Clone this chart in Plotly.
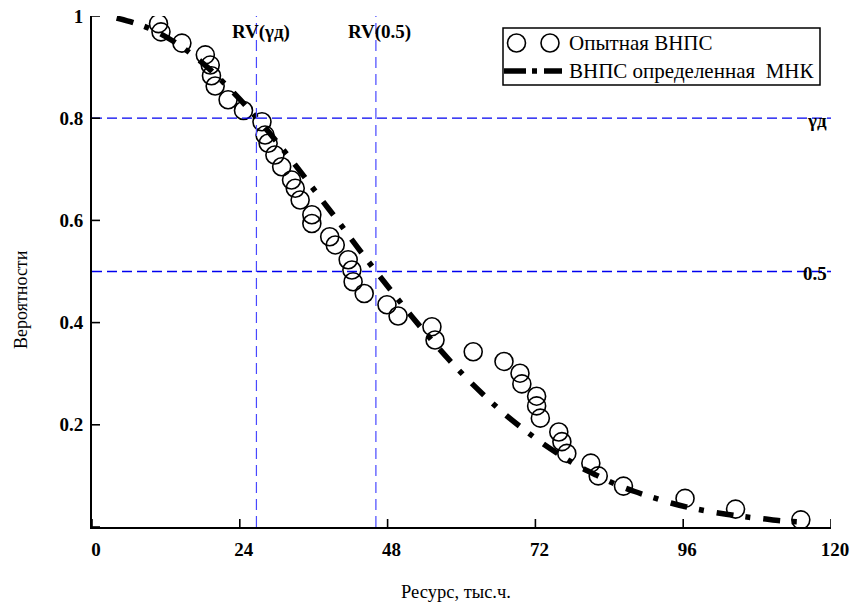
import plotly.graph_objects as go

# Опытная ВНПС: эмпирические точки (ресурс, тыс.ч. / вероятность)
exp_x = [10.8, 11.2, 14.6, 18.4, 19.2, 19.4, 20.0, 22.1, 24.6, 27.6,
         28.1, 28.6, 29.7, 30.8, 32.4, 33.0, 33.8, 35.7, 35.7, 38.6,
         39.5, 41.6, 42.2, 42.4, 44.2, 47.9, 49.7, 55.2, 55.7, 61.9,
         66.9, 69.5, 69.8, 72.2, 72.2, 72.8, 75.8, 76.3, 77.1, 81.0,
         82.2, 86.3, 96.3, 104.5, 115.1]
exp_p = [0.985, 0.969, 0.947, 0.924, 0.904, 0.883, 0.863, 0.836, 0.815, 0.793,
         0.767, 0.751, 0.728, 0.705, 0.679, 0.663, 0.640, 0.611, 0.594, 0.568,
         0.552, 0.523, 0.503, 0.480, 0.457, 0.435, 0.413, 0.392, 0.366, 0.343,
         0.324, 0.301, 0.280, 0.256, 0.237, 0.213, 0.186, 0.167, 0.144, 0.125,
         0.100, 0.080, 0.056, 0.035, 0.014]

# ВНПС, определенная МНК
fit_x = [4, 7, 10, 13, 16, 19, 22, 25, 28, 31, 34, 37, 40, 43, 46, 49, 52, 55,
         58, 61, 64, 67, 70, 73, 76, 79, 82, 85, 88, 91, 94, 97, 100, 103, 106,
         109, 112, 115]
fit_p = [0.996, 0.986, 0.972, 0.952, 0.927, 0.897, 0.862, 0.824, 0.783, 0.739,
         0.693, 0.645, 0.598, 0.549, 0.502, 0.456, 0.411, 0.368, 0.327, 0.289,
         0.254, 0.221, 0.192, 0.165, 0.141, 0.119, 0.101, 0.084, 0.070, 0.058,
         0.047, 0.038, 0.031, 0.025, 0.020, 0.016, 0.012, 0.010]

# уровни вероятности и соответствующие ресурсы
gamma_d = 0.8
p_half = 0.5
rv_gamma = 26.7
rv_half = 46.1

x_ticks = [0, 24, 48, 72, 96, 120]
y_ticks = [0.2, 0.4, 0.6, 0.8, 1]
y_tick_text = ["0.2", "0.4", "0.6", "0.8", "1"]

SERIF = "Liberation Serif, 'Times New Roman', serif"
WIDTH, HEIGHT = 851, 605
L, T, R, B = 92, 16, 20, 78
PW = WIDTH - L - R
PH = HEIGHT - T - B


def px(xp):
    return (xp - L) / PW


def py(yp):
    return (T + PH - yp) / PH


fig = go.Figure()

fig.add_trace(go.Scatter(
    x=fit_x, y=fit_p, mode="lines", line_shape="spline",
    line=dict(color="black", width=5.5, dash="17px,12px,5px,13px"),
    showlegend=False, hoverinfo="skip",
))
fig.add_trace(go.Scatter(
    x=exp_x, y=exp_p, mode="markers",
    marker=dict(symbol="circle-open", size=18, color="black",
                line=dict(color="black", width=1.6)),
    showlegend=False, hoverinfo="skip",
))

shapes = []
# опорные уровни и ресурсы
for lvl in (gamma_d, p_half):
    shapes.append(dict(type="line", xref="x", yref="y", x0=0, x1=120, y0=lvl, y1=lvl,
                       line=dict(color="#0000f0", width=1.3, dash="10px,5px")))
for rv in (rv_gamma, rv_half):
    shapes.append(dict(type="line", xref="x", yref="y", x0=rv, x1=rv, y0=0, y1=1,
                       line=dict(color="#4848ff", width=1.2, dash="11px,6px")))
# штрихи, пересекающие оси
for xv in x_ticks:
    shapes.append(dict(type="line", xref="x", yref="y", x0=xv, x1=xv,
                       ysizemode="pixel", yanchor=0, y0=-8, y1=8,
                       line=dict(color="black", width=1.6)))
for yv in [0] + y_ticks:
    shapes.append(dict(type="line", xref="x", yref="y", y0=yv, y1=yv,
                       xsizemode="pixel", xanchor=0, x0=-7, x1=8,
                       line=dict(color="black", width=1.6)))
# легенда
shapes.append(dict(type="rect", xref="paper", yref="paper",
                   x0=px(503), x1=px(820), y0=py(85), y1=py(28),
                   line=dict(color="black", width=1.5), fillcolor="white"))
for cx in (516.5, 550):
    shapes.append(dict(type="circle", xref="paper", yref="paper",
                       xsizemode="pixel", ysizemode="pixel",
                       xanchor=px(cx), yanchor=py(43), x0=-9, x1=9, y0=-9, y1=9,
                       line=dict(color="black", width=1.6)))
shapes.append(dict(type="line", xref="paper", yref="paper",
                   x0=px(504), x1=px(562), y0=py(71), y1=py(71),
                   line=dict(color="black", width=5.5, dash="22px,6px,5px,7px")))

bold = dict(family=SERIF, size=19, color="black")
annotations = [
    dict(text="<b>RV(γд)</b>", xref="paper", yref="paper", x=px(261), y=py(32),
         xanchor="center", yanchor="middle", showarrow=False, font=bold),
    dict(text="<b>RV(0.5)</b>", xref="paper", yref="paper", x=px(379), y=py(32),
         xanchor="center", yanchor="middle", showarrow=False, font=bold),
    dict(text="<b>γд</b>", xref="paper", yref="y", x=px(829), y=gamma_d,
         xanchor="right", yanchor="middle", yshift=-2, showarrow=False, font=bold),
    dict(text="<b>0.5</b>", xref="paper", yref="y", x=px(829), y=p_half,
         xanchor="right", yanchor="middle", yshift=-2, showarrow=False, font=bold),
    dict(text="Опытная ВНПС", xref="paper", yref="paper", x=px(567), y=py(43),
         xanchor="left", yanchor="middle", showarrow=False,
         font=dict(family=SERIF, size=21, color="black")),
    dict(text="ВНПС определенная\u00a0 МНК", xref="paper", yref="paper", x=px(567), y=py(71),
         xanchor="left", yanchor="middle", showarrow=False,
         font=dict(family=SERIF, size=21, color="black")),
    dict(text="Ресурс, тыс.ч.", xref="paper", yref="paper", x=px(456), y=py(592),
         xanchor="center", yanchor="middle", showarrow=False,
         font=dict(family=SERIF, size=18.5, color="black")),
    dict(text="Вероятности", xref="paper", yref="paper", x=px(21), y=py(300),
         xanchor="center", yanchor="middle", textangle=-90, showarrow=False,
         font=dict(family=SERIF, size=18, color="black")),
]

fig.update_layout(
    width=WIDTH, height=HEIGHT,
    margin=dict(l=L, r=R, t=T, b=B, pad=0, autoexpand=False),
    paper_bgcolor="white", plot_bgcolor="white",
    showlegend=False,
    shapes=shapes, annotations=annotations,
    xaxis=dict(range=[0, 120], tickvals=x_ticks, ticks="", showgrid=False,
               zeroline=False, showline=True, linecolor="black", linewidth=2,
               automargin=False,
               tickfont=dict(family=SERIF, size=19, color="black", weight="bold"),
               ticklabelshift=4, ticklabelstandoff=4),
    yaxis=dict(range=[0, 1], tickvals=y_ticks, ticktext=y_tick_text, ticks="",
               showgrid=False, zeroline=False, showline=True, linecolor="black",
               linewidth=2, automargin=False,
               tickfont=dict(family=SERIF, size=19, color="black", weight="bold"),
               ticklabelstandoff=3),
)

fig.write_html("out.html", config={"displayModeBar": False})
